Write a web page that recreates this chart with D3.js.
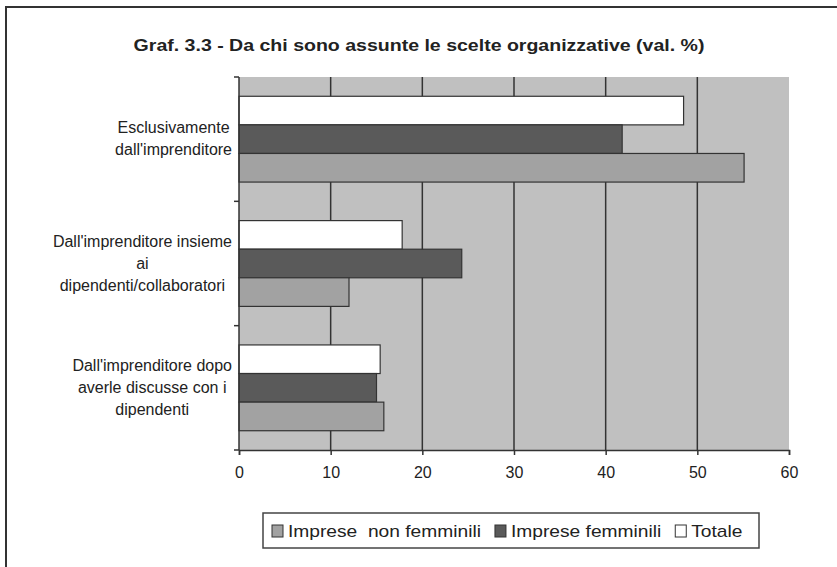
<!DOCTYPE html>
<html>
<head>
<meta charset="utf-8">
<script src="https://cdn.jsdelivr.net/npm/d3@7"></script>
<style>
  body { margin: 0; background: #fff; }
  text { font-family: "Liberation Sans", Arial, sans-serif; fill: #222; }
</style>
</head>
<body>
<div id="chart"></div>
<script>
var categories = [
  ["Esclusivamente", "dall'imprenditore"],
  ["Dall'imprenditore insieme", "ai", "dipendenti/collaboratori"],
  ["Dall'imprenditore dopo", "averle discusse con i", "dipendenti"]
];
var seriesNames = ["Totale", "Imprese femminili", "Imprese  non femminili"];
var totale = [48.5, 17.8, 15.4];
var femminili = [41.8, 24.3, 15.0];
var nonFemminili = [55.1, 12.0, 15.8];
var xTicks = [0, 10, 20, 30, 40, 50, 60];
var legendOrder = ["Imprese  non femminili", "Imprese femminili", "Totale"];

var colors = {"Totale": "#ffffff", "Imprese femminili": "#5a5a5a", "Imprese  non femminili": "#a2a2a2"};
var seriesData = [totale, femminili, nonFemminili];

var width = 837, height = 567;
var plot = {left: 239, right: 789, top: 77, bottom: 450};

var svg = d3.select("#chart").append("svg")
    .attr("width", width)
    .attr("height", height);

// outer frame (only left/top visible)
svg.append("rect")
    .attr("x", 6).attr("y", 7)
    .attr("width", 900).attr("height", 700)
    .attr("fill", "none")
    .attr("stroke", "#333")
    .attr("stroke-width", 2);

// title, a bit stretched sideways like the scan
svg.append("g")
    .attr("transform", "translate(419,51) scale(1.15,1)")
  .append("text")
    .attr("text-anchor", "middle")
    .style("font-size", "17px")
    .style("font-weight", "bold")
    .text("Graf. 3.3 - Da chi sono assunte le scelte organizzative (val. %)");

var x = d3.scaleLinear().domain([0, 60]).range([plot.left, plot.right]);
var y = d3.scaleBand().domain(d3.range(categories.length))
    .range([plot.top, plot.bottom])
    .paddingInner(0.31).paddingOuter(0.155);
var ySub = d3.scaleBand().domain(seriesNames).range([0, y.bandwidth()]);

svg.append("rect")
    .attr("x", plot.left).attr("y", plot.top)
    .attr("width", plot.right - plot.left).attr("height", plot.bottom - plot.top)
    .attr("fill", "#c0c0c0");

svg.append("g").selectAll("line")
    .data(xTicks.slice(1, -1))
    .enter().append("line")
    .attr("x1", function(d){ return x(d); })
    .attr("x2", function(d){ return x(d); })
    .attr("y1", plot.top).attr("y2", plot.bottom)
    .attr("stroke", "#333")
    .attr("stroke-width", 1.5);

var groups = svg.append("g").selectAll("g")
    .data(categories)
    .enter().append("g")
    .attr("transform", function(d, i){ return "translate(0," + y(i) + ")"; });

groups.selectAll("rect")
    .data(function(d, i){
      return seriesNames.map(function(s, j){ return {name: s, value: seriesData[j][i]}; });
    })
    .enter().append("rect")
    .attr("x", x(0))
    .attr("y", function(d){ return ySub(d.name); })
    .attr("width", function(d){ return x(d.value) - x(0); })
    .attr("height", ySub.bandwidth())
    .attr("fill", function(d){ return colors[d.name]; })
    .attr("stroke", "#333")
    .attr("stroke-width", 1.2);

// x axis
var xAxis = svg.append("g")
    .attr("transform", "translate(0," + plot.bottom + ")")
    .call(d3.axisBottom(x).tickValues(xTicks).tickSize(5).tickPadding(12));
xAxis.select(".domain").attr("stroke", "#333").attr("stroke-width", 1.5);
xAxis.selectAll(".tick line").attr("stroke", "#333").attr("stroke-width", 1.5);
xAxis.selectAll("text").style("font-size", "16px").attr("fill", "#222");

// y axis: line with ticks at category boundaries
var bounds = d3.range(categories.length + 1).map(function(i){
  return plot.top + i * (plot.bottom - plot.top) / categories.length;
});
svg.append("line")
    .attr("x1", plot.left).attr("x2", plot.left)
    .attr("y1", plot.top).attr("y2", plot.bottom)
    .attr("stroke", "#333").attr("stroke-width", 1.5);
svg.append("g").selectAll("line")
    .data(bounds)
    .enter().append("line")
    .attr("x1", plot.left - 5).attr("x2", plot.left)
    .attr("y1", function(d){ return d; }).attr("y2", function(d){ return d; })
    .attr("stroke", "#333").attr("stroke-width", 1.5);

// category labels: centred block, right edge near axis
var labelRight = 232, lineH = 22;
categories.forEach(function(lines, i){
  var cy = y(i) + y.bandwidth() / 2;
  var texts = lines.map(function(l, k){
    return svg.append("text")
      .attr("y", cy + (k - (lines.length - 1) / 2) * lineH + 5)
      .attr("text-anchor", "middle")
      .style("font-size", "16px")
      .text(l);
  });
  var w = d3.max(texts, function(t){ return t.node().getComputedTextLength(); });
  texts.forEach(function(t){ t.attr("x", labelRight - w / 2); });
});

// legend
var legend = svg.append("g");
legend.append("rect")
    .attr("x", 263).attr("y", 513)
    .attr("width", 496).attr("height", 35)
    .attr("fill", "#fff")
    .attr("stroke", "#444")
    .attr("stroke-width", 1.5);
var lx = 272, stretch = 1.2;
legendOrder.forEach(function(name){
  legend.append("rect")
      .attr("x", lx).attr("y", 525)
      .attr("width", 11).attr("height", 12)
      .attr("fill", colors[name])
      .attr("stroke", "#333")
      .attr("stroke-width", 1);
  var t = legend.append("g")
      .attr("transform", "translate(" + (lx + 16) + ",537) scale(" + stretch + ",1)")
    .append("text")
      .style("font-size", "16px")
      .style("white-space", "pre")
      .text(name);
  lx += 16 + t.node().getComputedTextLength() * stretch + 14;
});
</script>
</body>
</html>
